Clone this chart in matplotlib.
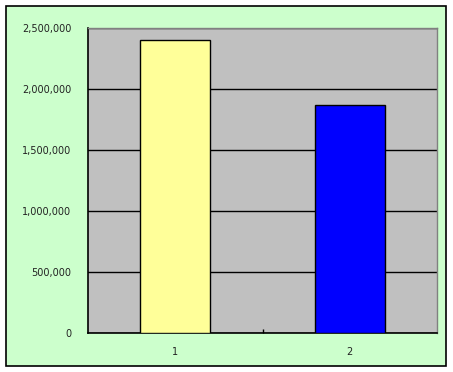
import matplotlib.pyplot as plt
from matplotlib.patches import Rectangle
from matplotlib.ticker import FuncFormatter

categories = ['1', '2']
values = [2400000, 1870000]
bar_colors = ['#FFFF99', '#0000FF']

W, H = 453, 372
fig = plt.figure(figsize=(W / 100, H / 100), dpi=100)
fig.patch.set_facecolor('white')

# green chart area with black border, behind the axes
fig.add_artist(Rectangle((6 / W, 1 - 366 / H), 440 / W, 360 / H,
                         transform=fig.transFigure, facecolor='#CCFFCC',
                         edgecolor='black', linewidth=1.2, zorder=-5))

ax = fig.add_axes([88 / W, 1 - 333 / H, 349 / W, 305 / H])
ax.set_zorder(1)
ax.set_facecolor('#C0C0C0')

x = list(range(1, len(categories) + 1))
ax.bar(x, values, width=0.4, color=bar_colors, edgecolor='black',
       linewidth=1, zorder=3)

ax.set_xlim(0.5, 2.5)
ax.set_ylim(0, 2500000)
ax.set_yticks(range(0, 2500001, 500000))
ax.yaxis.set_major_formatter(FuncFormatter(lambda v, p: f'{int(v):,}'))
ax.set_xticks(x)
ax.set_xticklabels(categories)
ax.set_xticks([1.5], minor=True)
ax.tick_params(axis='x', which='major', length=0, pad=10)
ax.tick_params(axis='x', which='minor', length=3, direction='in', width=1)
ax.tick_params(axis='y', length=0, pad=12)
ax.tick_params(labelsize=7, colors='#222222')
ax.grid(axis='y', color='black', linewidth=1, zorder=1)
ax.set_axisbelow(True)

for s in ['left', 'bottom']:
    ax.spines[s].set_color('black')
    ax.spines[s].set_linewidth(1.2)
for s in ['top', 'right']:
    ax.spines[s].set_color('#808080')
    ax.spines[s].set_linewidth(1)

fig.savefig('out.png', dpi=100)
